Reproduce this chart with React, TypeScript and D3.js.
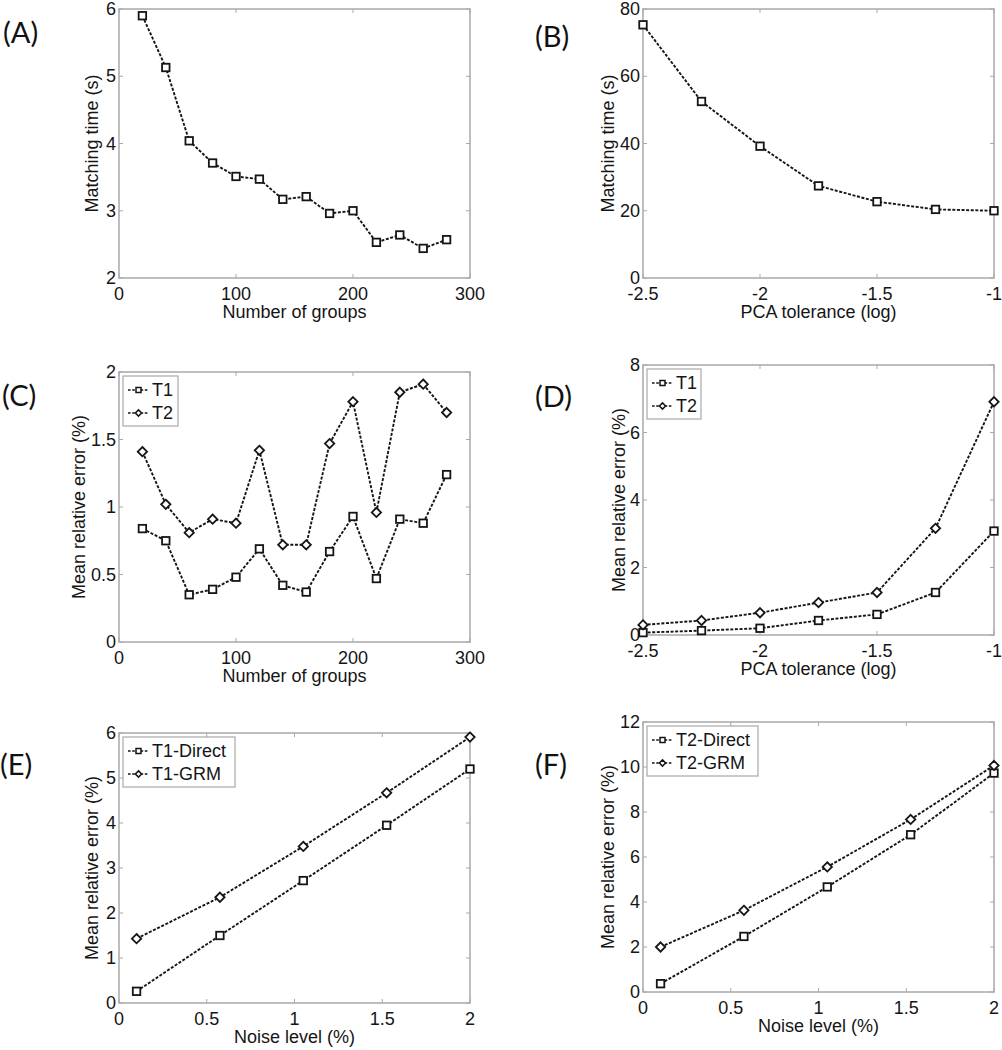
import React from 'react';
import * as d3 from 'd3';

// x values
const groupCounts = [20, 40, 60, 80, 100, 120, 140, 160, 180, 200, 220, 240, 260, 280];
const pcaTolerance = [-2.5, -2.25, -2, -1.75, -1.5, -1.25, -1];
const noiseLevel = [0.1, 0.575, 1.05, 1.525, 2.0];

// (A) matching time vs number of groups
const timeByGroups = [5.9, 5.13, 4.04, 3.71, 3.51, 3.47, 3.17, 3.21, 2.96, 3.0, 2.53, 2.64, 2.44, 2.57];
// (B) matching time vs PCA tolerance
const timeByTolerance = [75.3, 52.5, 39.2, 27.4, 22.7, 20.4, 20.0];
// (C) error vs number of groups
const t1ByGroups = [0.84, 0.75, 0.35, 0.39, 0.48, 0.69, 0.42, 0.37, 0.67, 0.93, 0.47, 0.91, 0.88, 1.24];
const t2ByGroups = [1.41, 1.02, 0.81, 0.91, 0.88, 1.42, 0.72, 0.72, 1.47, 1.78, 0.96, 1.85, 1.91, 1.7];
// (D) error vs PCA tolerance
const t1ByTolerance = [0.07, 0.13, 0.2, 0.43, 0.61, 1.26, 3.08];
const t2ByTolerance = [0.3, 0.43, 0.66, 0.96, 1.26, 3.16, 6.91];
// (E) T1 error vs noise
const t1Direct = [0.26, 1.5, 2.72, 3.95, 5.2];
const t1Grm = [1.43, 2.35, 3.48, 4.67, 5.91];
// (F) T2 error vs noise
const t2Direct = [0.37, 2.47, 4.67, 6.99, 9.73];
const t2Grm = [2.0, 3.63, 5.56, 7.67, 10.07];

// tick labels
const groupTicks = [0, 100, 200, 300];
const toleranceTicks = [-2.5, -2, -1.5, -1];
const noiseTicks = [0, 0.5, 1, 1.5, 2];
const timeGroupTicks = [2, 3, 4, 5, 6];
const timeTolTicks = [0, 20, 40, 60, 80];
const errGroupTicks = [0, 0.5, 1, 1.5, 2];
const errTolTicks = [0, 2, 4, 6, 8];
const errT1NoiseTicks = [0, 1, 2, 3, 4, 5, 6];
const errT2NoiseTicks = [0, 2, 4, 6, 8, 10, 12];

type Series = { name: string; x: number[]; y: number[]; marker: 'square' | 'diamond' };

const panels = [
  {
    label: '(A)', labelX: 3, labelY: 43,
    left: 119, top: 9, w: 351, h: 269,
    xDomain: [0, 300], yDomain: [2, 6], xTicks: groupTicks, yTicks: timeGroupTicks,
    xTitle: 'Number of groups', yTitle: 'Matching time (s)', yTitleOff: 21,
    legend: null as null | { w: number },
    series: [{ name: '', x: groupCounts, y: timeByGroups, marker: 'square' }] as Series[],
  },
  {
    label: '(B)', labelX: 535, labelY: 47,
    left: 643, top: 9, w: 351, h: 269,
    xDomain: [-2.5, -1], yDomain: [0, 80], xTicks: toleranceTicks, yTicks: timeTolTicks,
    xTitle: 'PCA tolerance (log)', yTitle: 'Matching time (s)', yTitleOff: 29,
    legend: null,
    series: [{ name: '', x: pcaTolerance, y: timeByTolerance, marker: 'square' }] as Series[],
  },
  {
    label: '(C)', labelX: 2, labelY: 406,
    left: 119, top: 372, w: 351, h: 270,
    xDomain: [0, 300], yDomain: [0, 2], xTicks: groupTicks, yTicks: errGroupTicks,
    xTitle: 'Number of groups', yTitle: 'Mean relative error (%)', yTitleOff: 34,
    legend: { w: 55 },
    series: [
      { name: 'T1', x: groupCounts, y: t1ByGroups, marker: 'square' },
      { name: 'T2', x: groupCounts, y: t2ByGroups, marker: 'diamond' },
    ] as Series[],
  },
  {
    label: '(D)', labelX: 535, labelY: 407,
    left: 643, top: 365, w: 351, h: 270,
    xDomain: [-2.5, -1], yDomain: [0, 8], xTicks: toleranceTicks, yTicks: errTolTicks,
    xTitle: 'PCA tolerance (log)', yTitle: 'Mean relative error (%)', yTitleOff: 18,
    legend: { w: 54 },
    series: [
      { name: 'T1', x: pcaTolerance, y: t1ByTolerance, marker: 'square' },
      { name: 'T2', x: pcaTolerance, y: t2ByTolerance, marker: 'diamond' },
    ] as Series[],
  },
  {
    label: '(E)', labelX: 0, labelY: 775,
    left: 119, top: 733, w: 351, h: 270,
    xDomain: [0, 2], yDomain: [0, 6], xTicks: noiseTicks, yTicks: errT1NoiseTicks,
    xTitle: 'Noise level (%)', yTitle: 'Mean relative error (%)', yTitleOff: 21,
    legend: { w: 112 },
    series: [
      { name: 'T1-Direct', x: noiseLevel, y: t1Direct, marker: 'square' },
      { name: 'T1-GRM', x: noiseLevel, y: t1Grm, marker: 'diamond' },
    ] as Series[],
  },
  {
    label: '(F)', labelX: 535, labelY: 775,
    left: 643, top: 722, w: 351, h: 270,
    xDomain: [0, 2], yDomain: [0, 12], xTicks: noiseTicks, yTicks: errT2NoiseTicks,
    xTitle: 'Noise level (%)', yTitle: 'Mean relative error (%)', yTitleOff: 29,
    legend: { w: 111 },
    series: [
      { name: 'T2-Direct', x: noiseLevel, y: t2Direct, marker: 'square' },
      { name: 'T2-GRM', x: noiseLevel, y: t2Grm, marker: 'diamond' },
    ] as Series[],
  },
];

const FONT = '"Liberation Sans", Arial, sans-serif';
const FS = 18;
const FRAME = '#a9a9a9';
const INK = '#151515';

function Marker({ kind, cx, cy, s, sw }: { kind: string; cx: number; cy: number; s: number; sw: number }) {
  if (kind === 'square') {
    return <rect x={cx - s / 2} y={cy - s / 2} width={s} height={s} fill="white" stroke={INK} strokeWidth={sw} />;
  }
  const d = s * 0.62;
  return (
    <path d={`M${cx},${cy - d} L${cx + d},${cy} L${cx},${cy + d} L${cx - d},${cy} Z`} fill="white" stroke={INK} strokeWidth={sw} />
  );
}

function Panel({ p }: { p: (typeof panels)[number] }) {
  const x = d3.scaleLinear().domain(p.xDomain).range([p.left, p.left + p.w]);
  const y = d3.scaleLinear().domain(p.yDomain).range([p.top + p.h, p.top]);
  const bottom = p.top + p.h;
  const right = p.left + p.w;
  const tk = 4;
  const line = d3.line<[number, number]>().x((d) => x(d[0])).y((d) => y(d[1]));

  return (
    <g>
      <text x={p.labelX} y={p.labelY} fontFamily="Lato, 'Open Sans', sans-serif" fontSize={29} fill="#111">{p.label}</text>
      <rect x={p.left} y={p.top} width={p.w} height={p.h} fill="white" stroke={FRAME} strokeWidth={1.5} />
      {p.xTicks.map((t) => (
        <g key={'x' + t}>
          <line x1={x(t)} x2={x(t)} y1={bottom} y2={bottom - tk} stroke={FRAME} />
          <line x1={x(t)} x2={x(t)} y1={p.top} y2={p.top + tk} stroke={FRAME} />
          <text x={x(t)} y={bottom + 21.5} textAnchor="middle" fontFamily={FONT} fontSize={FS} fill={INK}>{String(t)}</text>
        </g>
      ))}
      {p.yTicks.map((t) => (
        <g key={'y' + t}>
          <line x1={p.left} x2={p.left + tk} y1={y(t)} y2={y(t)} stroke={FRAME} />
          <line x1={right} x2={right - tk} y1={y(t)} y2={y(t)} stroke={FRAME} />
          <text x={p.left - 3} y={y(t)} dy="0.34em" textAnchor="end" fontFamily={FONT} fontSize={FS} fill={INK}>{String(t)}</text>
        </g>
      ))}
      <text x={p.left + p.w / 2} y={bottom + 40} textAnchor="middle" fontFamily={FONT} fontSize={FS} fill={INK}>{p.xTitle}</text>
      <text
        transform={`translate(${p.left - p.yTitleOff},${p.top + p.h / 2}) rotate(-90)`}
        textAnchor="middle" fontFamily={FONT} fontSize={FS} fill={INK}
      >{p.yTitle}</text>
      {p.series.map((s, i) => {
        const pts = s.x.map((v, j) => [v, s.y[j]] as [number, number]);
        return (
          <g key={'s' + i}>
            <path d={line(pts) || ''} fill="none" stroke={INK} strokeWidth={1.9} strokeDasharray="3,1.6" />
            {pts.map((d, j) => (
              <Marker key={j} kind={s.marker} cx={x(d[0])} cy={y(d[1])} s={7.5} sw={1.8} />
            ))}
          </g>
        );
      })}
      {p.legend && (
        <g transform={`translate(${p.left + 4},${p.top + 4})`}>
          <rect x={0} y={0} width={p.legend.w} height={50} fill="white" stroke={FRAME} strokeWidth={1.2} />
          {p.series.map((s, i) => {
            const ly = 14 + i * 23;
            return (
              <g key={'l' + i}>
                <line x1={5} x2={26} y1={ly} y2={ly} stroke={INK} strokeWidth={1.6} strokeDasharray="2.6,1.6" />
                <Marker kind={s.marker} cx={15.5} cy={ly} s={5} sw={1.5} />
                <text x={29} y={ly} dy="0.36em" fontFamily={FONT} fontSize={FS} fill={INK}>{s.name}</text>
              </g>
            );
          })}
        </g>
      )}
    </g>
  );
}

export default function App() {
  return (
    <svg width={1002} height={1050} style={{ position: 'absolute', left: 0, top: 0, background: 'white' }}>
      <rect width={1002} height={1050} fill="white" />
      {panels.map((p) => (
        <Panel key={p.label} p={p} />
      ))}
    </svg>
  );
}
